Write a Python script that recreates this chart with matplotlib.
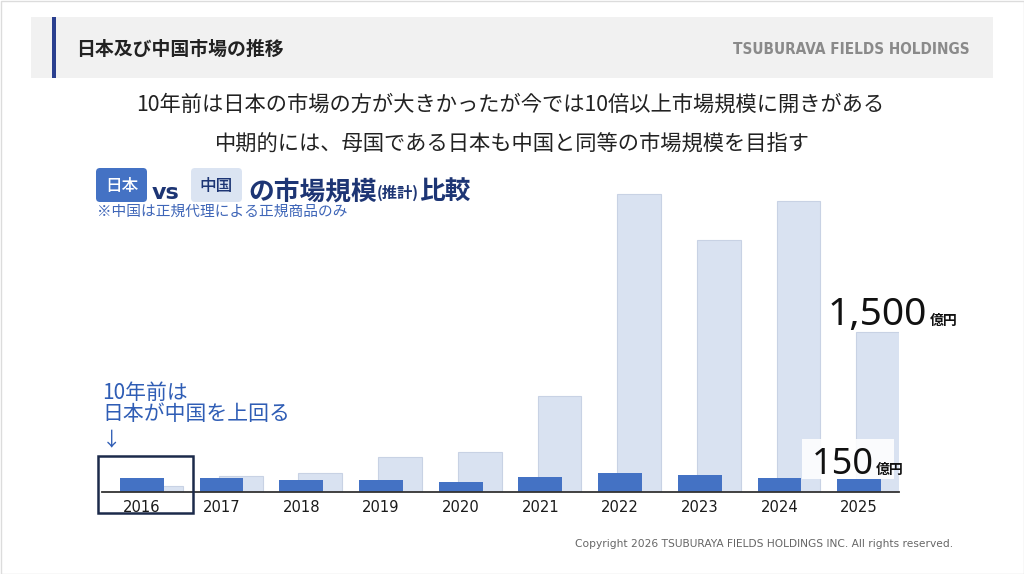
import matplotlib
matplotlib.use("Agg")
import matplotlib.pyplot as plt
from matplotlib.patches import Rectangle, FancyBboxPatch

plt.rcParams['font.family'] = ['Noto Sans CJK JP', 'DejaVu Sans']

# market size, 億円
years = ['2016', '2017', '2018', '2019', '2020', '2021', '2022', '2023', '2024', '2025']
japan = [130, 130, 115, 115, 95, 140, 175, 155, 135, 120]
china = [60, 150, 175, 330, 375, 900, 2790, 2360, 2730, 1500]

title = '日本及び中国市場の推移'
brand = 'TSUBURAVA FIELDS HOLDINGS'
lead1 = '10年前は日本の市場の方が大きかったが今では10倍以上市場規模に開きがある'
lead2 = '中期的には、母国である日本も中国と同等の市場規模を目指す'
note = '※中国は正規代理による正規商品のみ'
copyright_txt = 'Copyright 2026 TSUBURAYA FIELDS HOLDINGS INC. All rights reserved.'

NAVY = '#1d3574'
JP_BLUE = '#4472c4'
CN_BLUE = '#d9e2f1'

fig = plt.figure(figsize=(10.24, 5.74), dpi=100)

# full-figure overlay in pixel units for the slide furniture
bg = fig.add_axes([0, 0, 1, 1], zorder=0)
bg.set_xlim(0, 1024)
bg.set_ylim(574, 0)
bg.axis('off')

bg.add_patch(Rectangle((0.5, 0.5), 1023, 573, fill=False, ec='#dcdcdc', lw=1))
bg.add_patch(Rectangle((31, 17), 962, 61, fc='#f1f1f1', ec='none'))
bg.add_patch(Rectangle((52, 17), 4, 61, fc='#2a3f8f', ec='none'))
bg.text(76, 49, title, fontsize=13.6, fontweight='bold', color='#222222',
        va='center', ha='left')
bg.text(970, 50, brand, fontsize=11, fontweight='bold', color='#8a8a8a',
        va='center', ha='right', family=['DejaVu Sans'], fontstretch='condensed')

bg.text(510, 105, lead1, fontsize=15.3, color='#222222', ha='center', va='center')
bg.text(512, 145, lead2, fontsize=15.3, color='#222222', ha='center', va='center')

# "日本 vs 中国 の市場規模(推計)比較"
bg.add_patch(FancyBboxPatch((96, 168), 51, 34, boxstyle='round,pad=0,rounding_size=4',
                            fc=JP_BLUE, ec='none'))
bg.text(121.5, 186, '日本', fontsize=12, fontweight='medium', color='white',
        ha='center', va='center')
bg.text(152, 199, 'vs', fontsize=16, fontweight='bold', color=NAVY, ha='left',
        va='baseline', family=['DejaVu Sans'])
bg.add_patch(FancyBboxPatch((191, 168), 51, 34, boxstyle='round,pad=0,rounding_size=4',
                            fc='#dbe4f2', ec='none'))
bg.text(216.5, 186, '中国', fontsize=12, fontweight='medium', color=NAVY,
        ha='center', va='center')

renderer = fig.canvas.get_renderer()
x = 248
for piece, size, dy in [('の市場規模', 18.5, 0), ('(推計)', 11, -1), ('比較', 18.5, 0)]:
    t = bg.text(x, 199 + dy, piece, fontsize=size, fontweight='bold', color=NAVY,
                ha='left', va='baseline')
    x += t.get_window_extent(renderer).width

bg.text(97, 212, note, fontsize=10.6, color='#3f66b8', ha='left', va='center')

bg.text(102, 393, '10年前は', fontsize=15, color='#2f5db5', ha='left', va='center')
bg.text(102, 414, '日本が中国を上回る', fontsize=15, color='#2f5db5', ha='left', va='center')
bg.text(102, 440, '↓', fontsize=14, color='#2f5db5', ha='left', va='center')

bg.text(953, 544, copyright_txt, fontsize=7.65, color='#666666', ha='right',
        va='center', family=['DejaVu Sans'])

# bar chart
ymax = 2925
ax = fig.add_axes([102 / 1024, 1 - 492 / 574, 797 / 1024, 312 / 574], zorder=1)
ax.patch.set_alpha(0)
pos = list(range(len(years)))
ax.bar([p + 0.24 for p in pos], china, width=0.55, color=CN_BLUE,
       edgecolor='#c8d2e4', linewidth=0.8, zorder=1)
ax.bar(pos, japan, width=0.55, color=JP_BLUE, zorder=2)
ax.set_xlim(-0.5, len(years) - 0.5)
ax.set_ylim(0, ymax)
ax.set_yticks([])
ax.set_xticks(pos)
ax.set_xticklabels(years, fontsize=10.6, color='#1a1a1a', family=['DejaVu Sans'])
ax.tick_params(axis='x', length=0, pad=6)
for s in ['top', 'left', 'right']:
    ax.spines[s].set_visible(False)
ax.spines['bottom'].set_color('#333333')
ax.spines['bottom'].set_linewidth(1.3)

# highlight for 2016
per_px = ymax / 312
ax.add_patch(Rectangle((-0.55, -21 * per_px), 1.19, 57 * per_px, fill=False,
                       ec='#1c2a4a', lw=1.8, clip_on=False, zorder=3))

# value callouts
last = len(years) - 1
ax.add_patch(Rectangle((last - 0.715, japan[-1]), 1.155, 40 * per_px,
                       fc='white', ec='none', alpha=0.88, zorder=4, clip_on=False))
ax.annotate(f'{china[-1]:,}', xy=(last + 0.24, china[-1]), xytext=(49, 7),
            textcoords='offset pixels', ha='right', va='baseline', fontsize=28,
            color='#111111', zorder=5, family=['Noto Sans', 'DejaVu Sans'])
ax.annotate('億円', xy=(last + 0.24, china[-1]), xytext=(52, 7),
            textcoords='offset pixels', ha='left', va='baseline', fontsize=10,
            fontweight='bold', color='#111111', zorder=5)
ax.annotate(f'{japan[-1] + 30:,}', xy=(last, japan[-1]), xytext=(15, 5),
            textcoords='offset pixels', ha='right', va='baseline', fontsize=26,
            color='#111111', zorder=5, family=['Noto Sans', 'DejaVu Sans'])
ax.annotate('億円', xy=(last, japan[-1]), xytext=(17, 5),
            textcoords='offset pixels', ha='left', va='baseline', fontsize=10,
            fontweight='bold', color='#111111', zorder=5)

fig.savefig('out.png', dpi=100)
